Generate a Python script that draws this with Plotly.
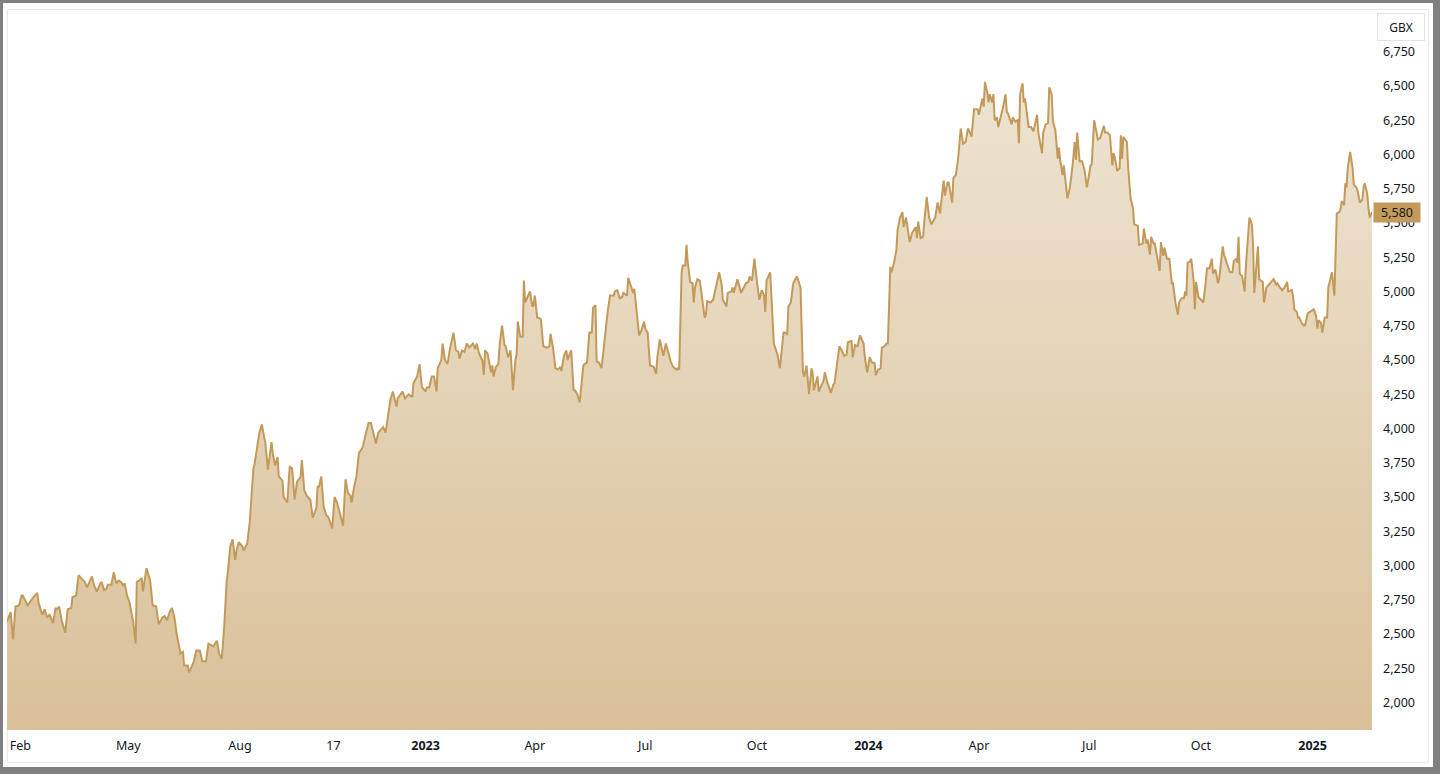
import plotly.graph_objects as go

# ---------------- data ----------------
dates_2022 = [
    "01-21", "01-24", "01-26", "01-28", "01-31", "02-02", "02-03", "02-07", "02-11", "02-15",
    "02-16", "02-19", "02-21", "02-23", "02-25", "02-28", "03-02", "03-03", "03-05", "03-07",
    "03-10", "03-12", "03-15", "03-16", "03-19", "03-21", "03-25", "03-26", "03-28", "04-01",
    "04-03", "04-05", "04-08", "04-09", "04-11", "04-13", "04-14", "04-17", "04-19", "04-21",
    "04-23", "04-25", "04-27", "04-28", "04-30", "05-02", "05-05", "05-07", "05-08", "05-10",
    "05-12", "05-13", "05-16", "05-19", "05-21", "05-24", "05-26", "05-29", "05-31", "06-02",
    "06-04", "06-06", "06-08", "06-10", "06-13", "06-15", "06-16", "06-19", "06-20", "06-24",
    "06-26", "06-29", "07-01", "07-04", "07-06", "07-09", "07-10", "07-13", "07-15", "07-17",
    "07-19", "07-21", "07-22", "07-24", "07-26", "07-28", "07-29", "07-31", "08-03", "08-04",
    "08-07", "08-09", "08-12", "08-13", "08-15", "08-17", "08-19", "08-22", "08-24", "08-27",
    "08-28", "08-30", "09-01", "09-02", "09-05", "09-06", "09-09", "09-11", "09-13", "09-15",
    "09-17", "09-20", "09-21", "09-23", "09-25", "09-28", "09-30", "10-03", "10-04", "10-05",
    "10-07", "10-09", "10-11", "10-13", "10-16", "10-18", "10-20", "10-22", "10-25", "10-27",
    "10-29", "10-31", "11-01", "11-03", "11-05", "11-07", "11-10", "11-13", "11-15", "11-17",
    "11-19", "11-21", "11-23", "11-25", "11-27", "11-29", "12-01", "12-03", "12-05", "12-08",
    "12-09", "12-13", "12-15", "12-18", "12-21", "12-22", "12-25", "12-27", "12-29",
]
values_2022 = [
    2590, 2660, 2460, 2700, 2710, 2780, 2780, 2710, 2760, 2800,
    2730, 2640, 2680, 2620, 2640, 2580, 2690, 2680, 2700, 2600,
    2510, 2680, 2690, 2770, 2780, 2930, 2890, 2880, 2840, 2920,
    2850, 2810, 2870, 2880, 2820, 2830, 2860, 2860, 2950, 2870,
    2890, 2880, 2850, 2870, 2780, 2730, 2590, 2430, 2880, 2890,
    2910, 2810, 2980, 2890, 2710, 2700, 2570, 2620, 2630, 2600,
    2660, 2690, 2620, 2490, 2360, 2370, 2270, 2270, 2220, 2300,
    2380, 2380, 2300, 2300, 2430, 2410, 2410, 2450, 2350, 2320,
    2550, 2880, 2950, 3140, 3190, 3040, 3100, 3170, 3140, 3110,
    3160, 3310, 3700, 3740, 3870, 3970, 4030, 3890, 3700, 3900,
    3820, 3730, 3790, 3650, 3620, 3500, 3460, 3720, 3710, 3480,
    3610, 3650, 3770, 3550, 3510, 3480, 3350, 3420, 3580, 3570,
    3650, 3430, 3370, 3350, 3270, 3500, 3460, 3390, 3290, 3630,
    3530, 3510, 3460, 3570, 3650, 3820, 3860, 3970, 4040, 4040,
    3970, 3890, 3970, 3990, 4010, 3970, 4110, 4210, 4270, 4160,
    4220, 4270, 4220, 4250, 4230, 4330, 4380, 4470, 4300,
]

dates_2023 = [
    "01-01", "01-02", "01-04", "01-06", "01-08", "01-10", "01-11", "01-14", "01-15", "01-17",
    "01-19", "01-21", "01-24", "01-26", "01-28", "01-29", "01-31", "02-02", "02-04", "02-06",
    "02-09", "02-11", "02-12", "02-14", "02-17", "02-18", "02-19", "02-21", "02-24", "02-25",
    "02-26", "02-28", "03-02", "03-03", "03-05", "03-07", "03-08", "03-10", "03-12", "03-14",
    "03-16", "03-17", "03-18", "03-20", "03-22", "03-23", "03-24", "03-26", "03-28", "03-30",
    "03-31", "04-01", "04-03", "04-06", "04-08", "04-11", "04-13", "04-14", "04-16", "04-18",
    "04-20", "04-22", "04-23", "04-25", "04-27", "04-28", "05-01", "05-03", "05-04", "05-06",
    "05-08", "05-11", "05-12", "05-14", "05-16", "05-18", "05-19", "05-21", "05-22", "05-24",
    "05-26", "05-27", "05-29", "05-31", "06-02", "06-05", "06-06", "06-08", "06-10", "06-12",
    "06-13", "06-16", "06-17", "06-21", "06-22", "06-24", "06-26", "06-28", "06-30", "07-01",
    "07-03", "07-05", "07-08", "07-10", "07-11", "07-13", "07-15", "07-16", "07-18", "07-19",
    "07-22", "07-24", "07-27", "07-28", "07-29", "07-31", "08-01", "08-03", "08-04", "08-05",
    "08-07", "08-09", "08-10", "08-11", "08-13", "08-15", "08-18", "08-19", "08-20", "08-21",
    "08-24", "08-26", "08-28", "08-29", "08-31", "09-02", "09-03", "09-06", "09-07", "09-10",
    "09-11", "09-12", "09-14", "09-15", "09-18", "09-20", "09-22", "09-24", "09-25", "09-27",
    "09-29", "10-01", "10-03", "10-05", "10-07", "10-08", "10-09", "10-12", "10-14", "10-15",
    "10-18", "10-20", "10-23", "10-24", "10-26", "10-27", "10-29", "10-31", "11-03", "11-05",
    "11-06", "11-08", "11-09", "11-11", "11-13", "11-15", "11-16", "11-17", "11-20", "11-21",
    "11-25", "11-26", "11-28", "12-01", "12-03", "12-04", "12-06", "12-08", "12-10", "12-12",
    "12-14", "12-15", "12-18", "12-19", "12-21", "12-23", "12-25", "12-28", "12-29", "12-31",
]
values_2023 = [
    4270, 4300, 4300, 4380, 4380, 4270, 4440, 4500, 4620, 4500,
    4470, 4580, 4700, 4570, 4560, 4510, 4570, 4560, 4620, 4590,
    4620, 4580, 4620, 4550, 4490, 4390, 4570, 4550, 4410, 4460,
    4380, 4450, 4470, 4610, 4750, 4610, 4600, 4520, 4570, 4280,
    4500, 4540, 4780, 4670, 4670, 5080, 4920, 4960, 5000, 4890,
    4900, 4970, 4810, 4800, 4600, 4590, 4600, 4690, 4590, 4440,
    4430, 4450, 4420, 4530, 4570, 4500, 4570, 4280, 4280, 4250,
    4190, 4460, 4470, 4480, 4700, 4700, 4880, 4900, 4490, 4480,
    4440, 4520, 4700, 4850, 4970, 4970, 5000, 5010, 4950, 4960,
    4990, 4970, 5100, 4990, 5020, 4870, 4680, 4720, 4780, 4730,
    4700, 4460, 4450, 4400, 4520, 4650, 4570, 4530, 4620, 4590,
    4490, 4450, 4430, 4440, 4430, 5140, 5190, 5190, 5340, 5220,
    5070, 5060, 4920, 5030, 5090, 5080, 4890, 4810, 4830, 4930,
    4920, 4940, 5020, 5060, 5140, 5050, 4940, 4890, 4990, 5000,
    5030, 4990, 5070, 5090, 4990, 5030, 5060, 5070, 5110, 5080,
    5240, 5080, 4940, 5010, 4970, 4850, 5080, 5140, 4840, 4620,
    4540, 4440, 4700, 4700, 4690, 4890, 4920, 5060, 5110, 5050,
    5030, 4410, 4380, 4460, 4250, 4440, 4410, 4280, 4380, 4270,
    4350, 4410, 4340, 4260, 4320, 4330, 4450, 4600, 4570, 4530,
    4540, 4630, 4640, 4520, 4610, 4600, 4680, 4620, 4520, 4410,
]

dates_2024 = [
    "01-02", "01-04", "01-06", "01-07", "01-09", "01-11", "01-12", "01-14", "01-16", "01-17",
    "01-19", "01-20", "01-22", "01-24", "01-25", "01-27", "01-29", "01-30", "02-01", "02-04",
    "02-06", "02-09", "02-10", "02-11", "02-13", "02-15", "02-16", "02-18", "02-20", "02-22",
    "02-25", "02-27", "02-29", "03-03", "03-04", "03-06", "03-07", "03-10", "03-11", "03-13",
    "03-15", "03-17", "03-19", "03-21", "03-22", "03-23", "03-26", "03-28", "03-31", "04-01",
    "04-04", "04-05", "04-06", "04-08", "04-09", "04-10", "04-12", "04-13", "04-14", "04-16",
    "04-17", "04-19", "04-21", "04-23", "04-24", "04-25", "04-28", "04-29", "05-01", "05-03",
    "05-04", "05-05", "05-07", "05-08", "05-09", "05-12", "05-14", "05-16", "05-18", "05-19",
    "05-20", "05-23", "05-24", "05-26", "05-28", "05-29", "05-31", "06-01", "06-03", "06-05",
    "06-06", "06-07", "06-09", "06-10", "06-13", "06-15", "06-17", "06-19", "06-20", "06-21",
    "06-23", "06-25", "06-27", "06-29", "06-30", "07-02", "07-03", "07-05", "07-07", "07-08",
    "07-10", "07-13", "07-14", "07-16", "07-18", "07-20", "07-21", "07-22", "07-24", "07-26",
    "07-27", "07-28", "07-29", "08-01", "08-02", "08-04", "08-06", "08-07", "08-10", "08-11",
    "08-14", "08-15", "08-17", "08-18", "08-20", "08-21", "08-23", "08-24", "08-26", "08-28",
    "08-29", "08-31", "09-01", "09-03", "09-05", "09-07", "09-08", "09-10", "09-12", "09-13",
    "09-15", "09-17", "09-18", "09-19", "09-20", "09-22", "09-23", "09-25", "09-26", "09-27",
    "09-29", "10-01", "10-03", "10-05", "10-06", "10-08", "10-10", "10-11", "10-13", "10-15",
    "10-16", "10-19", "10-20", "10-23", "10-25", "10-27", "10-28", "10-30", "10-31", "11-01",
    "11-02", "11-04", "11-06", "11-07", "11-09", "11-10", "11-12", "11-13", "11-14", "11-15",
    "11-17", "11-18", "11-21", "11-22", "11-24", "11-26", "11-28", "11-30", "12-02", "12-03",
    "12-05", "12-07", "12-09", "12-11", "12-12", "12-15", "12-16", "12-17", "12-19", "12-20",
    "12-21", "12-23", "12-25", "12-26", "12-28", "12-30",
]
values_2024 = [
    4520, 4480, 4480, 4390, 4430, 4440, 4590, 4600, 4620, 4620,
    5180, 5140, 5210, 5300, 5450, 5540, 5580, 5470, 5540, 5360,
    5430, 5470, 5390, 5510, 5390, 5400, 5510, 5690, 5540, 5490,
    5540, 5650, 5570, 5810, 5700, 5790, 5800, 5650, 5830, 5850,
    5980, 6190, 6080, 6090, 6140, 6190, 6130, 6330, 6330, 6290,
    6410, 6350, 6530, 6450, 6380, 6440, 6380, 6440, 6250, 6270,
    6200, 6270, 6350, 6440, 6310, 6300, 6220, 6270, 6240, 6250,
    6080, 6440, 6520, 6380, 6410, 6200, 6200, 6170, 6270, 6290,
    6160, 6010, 6160, 6220, 6230, 6490, 6440, 6240, 6180, 5970,
    6050, 5960, 5850, 5920, 5680, 5760, 5900, 6090, 5960, 6160,
    5950, 5950, 5890, 5760, 5810, 5920, 5930, 6250, 6160, 6110,
    6120, 6210, 6160, 6160, 6140, 5920, 6010, 5980, 5880, 5900,
    6140, 5970, 6130, 6090, 5910, 5680, 5610, 5490, 5480, 5340,
    5350, 5460, 5350, 5380, 5270, 5400, 5350, 5350, 5250, 5150,
    5360, 5260, 5320, 5240, 5240, 5060, 5060, 4920, 4830, 4920,
    4950, 4950, 5000, 4970, 5210, 5220, 5240, 5080, 4870, 5070,
    4960, 4940, 4920, 5070, 5170, 5170, 5240, 5130, 5160, 5060,
    5090, 5330, 5270, 5190, 5140, 5140, 5220, 5240, 5210, 5400,
    5130, 5110, 5000, 5180, 5380, 5540, 5490, 5330, 4990, 5110,
    5330, 5090, 5070, 4920, 5030, 5050, 5070, 5090, 5050, 5060,
    5030, 5010, 5030, 5070, 5000, 5010, 4960, 4870, 4850, 4810,
    4810, 4770, 4750, 4760, 4840, 4850,
]

dates_2025 = [
    "01-02", "01-04", "01-05", "01-06", "01-08", "01-09", "01-11", "01-13", "01-14", "01-17",
    "01-18", "01-19", "01-21", "01-23", "01-24", "01-25", "01-27", "01-28", "01-29", "01-30",
    "02-01", "02-03", "02-04", "02-06", "02-07", "02-09", "02-11", "02-12", "02-13", "02-15",
    "02-16", "02-17", "02-19",
]
values_2025 = [
    4870, 4820, 4730, 4790, 4770, 4700, 4810, 4810, 5030, 5140,
    5030, 4970, 5570, 5580, 5600, 5660, 5630, 5790, 5760, 5900,
    6020, 5900, 5780, 5760, 5740, 5650, 5670, 5760, 5790, 5720,
    5620, 5540, 5580,
]

y_tick_values = [2000, 2250, 2500, 2750, 3000, 3250, 3500, 3750, 4000,
                 4250, 4500, 4750, 5000, 5250, 5500, 5750, 6000, 6250, 6500, 6750]
x_tick_dates = ["2022-02-01", "2022-05-01", "2022-08-01", "2022-10-17", "2023-01-01",
                "2023-04-01", "2023-07-01", "2023-10-01", "2024-01-01", "2024-04-01",
                "2024-07-01", "2024-10-01", "2025-01-01"]
x_tick_labels = ["Feb", "May", "Aug", "17", "<b>2023</b>", "Apr", "Jul", "Oct",
                 "<b>2024</b>", "Apr", "Jul", "Oct", "<b>2025</b>"]
last_price = 5580
currency = "GBX"

# ---------------- assemble ----------------
dates = ([f"2022-{d}" for d in dates_2022] + [f"2023-{d}" for d in dates_2023]
         + [f"2024-{d}" for d in dates_2024] + [f"2025-{d}" for d in dates_2025])
values = values_2022 + values_2023 + values_2024 + values_2025
assert len(dates) == len(values)

# ---------------- style / layout ----------------
W, H = 1440, 774
PL, PR, PT, PB = 7, 1372, 10, 730   # plot area in pixels


def px_x(p):
    return (p - PL) / (PR - PL)


def px_y(p):
    return (PB - p) / (PB - PT)


LINE = "#c49a5a"
FILL_TOP = "#eee4d2"
FILL_BOTTOM = "#d9c098"
TEXT = "#131722"
FONT = "Noto Sans"

fig = go.Figure()
fig.add_trace(go.Scatter(
    x=dates, y=values, mode="lines",
    line=dict(color=LINE, width=2),
    fill="tozeroy",
    fillgradient=dict(type="vertical", start=1800, stop=6550,
                      colorscale=[[0, FILL_BOTTOM], [1, FILL_TOP]]),
    hoverinfo="skip", showlegend=False,
))

fig.update_layout(
    width=W, height=H,
    margin=dict(l=PL, r=W - PR, t=PT, b=H - PB),
    paper_bgcolor="#808080",
    plot_bgcolor="rgba(0,0,0,0)",
    font=dict(family=FONT, size=12.5, color=TEXT),
    xaxis=dict(
        type="date", range=[dates[0], dates[-1]],
        tickmode="array", tickvals=x_tick_dates, ticktext=x_tick_labels,
        showgrid=False, zeroline=False, showline=False, ticks="",
        ticklabelstandoff=6, tickfont=dict(size=12.5, color=TEXT),
    ),
    yaxis=dict(
        side="right", range=[1799, 7055],
        tickmode="array", tickvals=y_tick_values, tickformat=",d",
        showgrid=False, zeroline=False, showline=False, ticks="",
        ticklabelstandoff=10, tickfont=dict(size=12.5, color=TEXT),
    ),
    shapes=[
        dict(type="rect", xref="paper", yref="paper", layer="below",
             x0=px_x(3), x1=px_x(1433), y0=px_y(767), y1=px_y(3),
             fillcolor="white", line=dict(width=0)),
        dict(type="rect", xref="paper", yref="paper", layer="below",
             x0=px_x(7.5), x1=px_x(1428.5), y0=px_y(762.5), y1=px_y(9.5),
             fillcolor="rgba(0,0,0,0)", line=dict(color="#e8e8e8", width=1)),
    ],
    annotations=[
        dict(text=f"{last_price:,}", xref="paper", x=1, xanchor="left", xshift=1,
             yref="y", y=last_price, yanchor="middle", showarrow=False,
             bgcolor=LINE, font=dict(size=12.5, color=TEXT),
             width=44, height=17),
        dict(text=currency, xref="paper", x=px_x(1401), xanchor="center",
             yref="paper", y=px_y(27), yanchor="middle", showarrow=False,
             bgcolor="white", bordercolor="#e0e3eb", borderwidth=1,
             font=dict(size=12, color=TEXT), width=44, height=24),
    ],
)

fig.write_html(
    "out.html",
    config={"displayModeBar": False},
    post_script="document.body.style.margin='0';document.body.style.overflow='hidden';",
)
